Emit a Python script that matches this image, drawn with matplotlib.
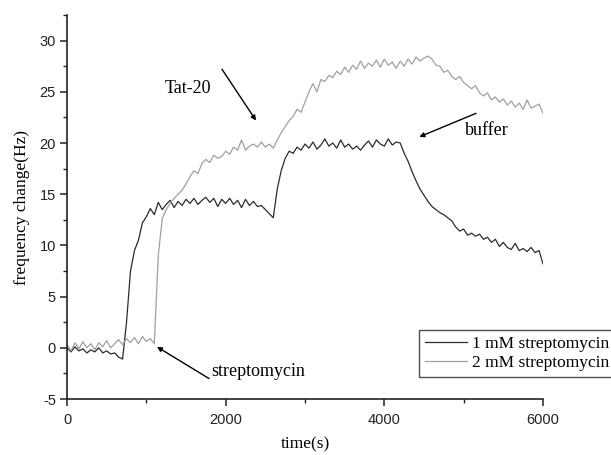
import numpy as np
import matplotlib
matplotlib.use('Agg')
import matplotlib.pyplot as plt
from matplotlib.ticker import MultipleLocator

plt.rcParams['axes.unicode_minus'] = False

# time axis in seconds, one reading every 50 s
time_s = np.arange(0, 6001, 50)

# 1 mM streptomycin
freq_1mM = [0.0, -0.4, 0.1, -0.3, -0.1, -0.5, -0.2, -0.4, 0.0, -0.5, -0.3, -0.6, -0.5, -0.9,
            -1.1, 2.5, 7.5, 9.5, 10.5, 12.2, 12.8, 13.6, 13.0, 14.2, 13.5,
            14.0, 14.4, 13.7, 14.3, 13.9, 14.5, 14.1, 14.6, 14.0, 14.4, 14.7, 14.2, 14.6, 13.8,
            14.5, 14.1, 14.6, 14.0, 14.4, 13.7, 14.5, 13.9, 14.3, 13.8, 13.9, 13.5, 13.1, 12.7,
            15.5, 17.3, 18.5, 19.2, 19.0, 19.6, 19.3, 19.9, 19.5, 20.1, 19.4, 19.8, 20.4, 19.7,
            20.0, 19.5, 20.3, 19.6, 19.9, 19.4, 19.7, 19.3, 19.8, 20.2, 19.6, 20.3, 19.9, 19.7,
            20.4, 19.8, 20.1, 20.0,
            19.0, 18.2, 17.2, 16.3, 15.5, 14.9, 14.3, 13.8, 13.5, 13.2, 13.0, 12.7, 12.4, 11.8,
            11.4, 11.6, 11.0, 11.2, 10.9, 11.1, 10.6, 10.8, 10.3, 10.6, 9.9, 10.3, 9.8, 9.6,
            10.2, 9.5, 9.7, 9.4, 9.8, 9.3, 9.5, 8.2]

# 2 mM streptomycin
freq_2mM = [0.3, -0.3, 0.5, -0.1, 0.6, 0.0, 0.4, -0.2, 0.5, 0.1, 0.7, 0.0, 0.4, 0.8, 0.3,
            0.9, 0.5, 1.0, 0.4, 1.1, 0.6, 0.9, 0.4,
            9.0, 12.6, 13.5, 14.1, 14.6, 15.0, 15.4, 16.0, 16.7, 17.3, 17.0, 18.0, 18.4, 18.1,
            18.8, 18.5, 18.7, 19.2, 18.9, 19.6, 19.3, 20.3, 19.3, 19.7, 19.9, 19.6, 20.1, 19.6,
            19.9, 19.5,
            20.3, 21.0, 21.6, 22.2, 22.6, 23.3, 23.0, 24.0, 25.0, 25.8, 25.0, 26.2, 26.0, 26.6,
            26.4, 27.0, 26.7, 27.4, 26.9, 27.6, 27.2, 28.0, 27.3, 27.8, 27.5, 28.1, 27.4, 28.2,
            27.6, 27.9, 27.3, 28.0, 27.5, 28.2, 27.7, 28.4,
            28.0, 28.3, 28.5, 28.2, 27.6, 27.5, 26.9, 27.1, 26.5, 26.2, 26.5, 25.9, 25.6, 25.3,
            25.6, 24.9, 24.6, 24.9, 24.2, 24.5, 24.0, 24.3, 23.7, 24.1, 23.5, 23.9, 23.3, 24.2,
            23.4, 23.6, 23.8, 22.9]

series_labels = ['1 mM streptomycin', '2 mM streptomycin']
series_colors = ['#2b2b2b', '#a0a0a0']

serif = 'Liberation Serif'
sans = 'Liberation Sans'

fig = plt.figure(figsize=(6.11, 4.55), dpi=100)
ax = fig.add_axes([0.1097, 0.123, 0.779, 0.844])

ax.plot(time_s, freq_1mM, color=series_colors[0], lw=0.9, label=series_labels[0])
ax.plot(time_s, freq_2mM, color=series_colors[1], lw=0.9, label=series_labels[1])

ax.set_xlim(0, 6000)
ax.set_ylim(-5, 32.5)
ax.xaxis.set_major_locator(MultipleLocator(2000))
ax.xaxis.set_minor_locator(MultipleLocator(1000))
ax.yaxis.set_major_locator(MultipleLocator(5))
ax.yaxis.set_minor_locator(MultipleLocator(2.5))

for s in ['top', 'right']:
    ax.spines[s].set_visible(False)
for s in ['left', 'bottom']:
    ax.spines[s].set_linewidth(1.2)
    ax.spines[s].set_color('#222222')

ax.tick_params(which='major', direction='out', length=5, width=1.1, colors='#222222',
               labelsize=10.5, pad=3)
ax.tick_params(axis='x', which='major', pad=5)
ax.tick_params(which='minor', direction='out', length=3, width=1.0, colors='#222222')
for lab in ax.get_xticklabels() + ax.get_yticklabels():
    lab.set_fontfamily(sans)

ax.set_xlabel('time(s)', fontfamily=serif, fontsize=12.5, labelpad=7)
ax.set_ylabel('frequency change(Hz)', fontfamily=serif, fontsize=12.5, labelpad=7)

arrow = dict(arrowstyle='-|>', color='black', lw=1.0, mutation_scale=7,
             shrinkA=0, shrinkB=0)
ax.annotate('', xy=(2382, 22.2), xytext=(1954, 27.2), arrowprops=arrow)
ax.text(1519, 25.3, 'Tat-20', fontfamily=serif, fontsize=13, ha='center', va='center')
ax.annotate('', xy=(4441, 20.6), xytext=(5155, 22.9), arrowprops=arrow)
ax.text(5288, 21.2, 'buffer', fontfamily=serif, fontsize=13, ha='center', va='center')
ax.annotate('', xy=(1134, 0.1), xytext=(1790, -3.0), arrowprops=arrow)
ax.text(2414, -2.3, 'streptomycin', fontfamily=serif, fontsize=13, ha='center', va='center')

leg = ax.legend(loc='lower left', bbox_to_anchor=(419 / 611, (455 - 377) / 455),
                bbox_transform=fig.transFigure, frameon=True, fancybox=False,
                prop={'family': serif, 'size': 12.5}, handlelength=2.4,
                handletextpad=0.3, borderpad=0.35, labelspacing=0.15, borderaxespad=0)
leg.get_frame().set_edgecolor('#222222')
leg.get_frame().set_linewidth(1.0)

fig.savefig('out.png', dpi=100)
